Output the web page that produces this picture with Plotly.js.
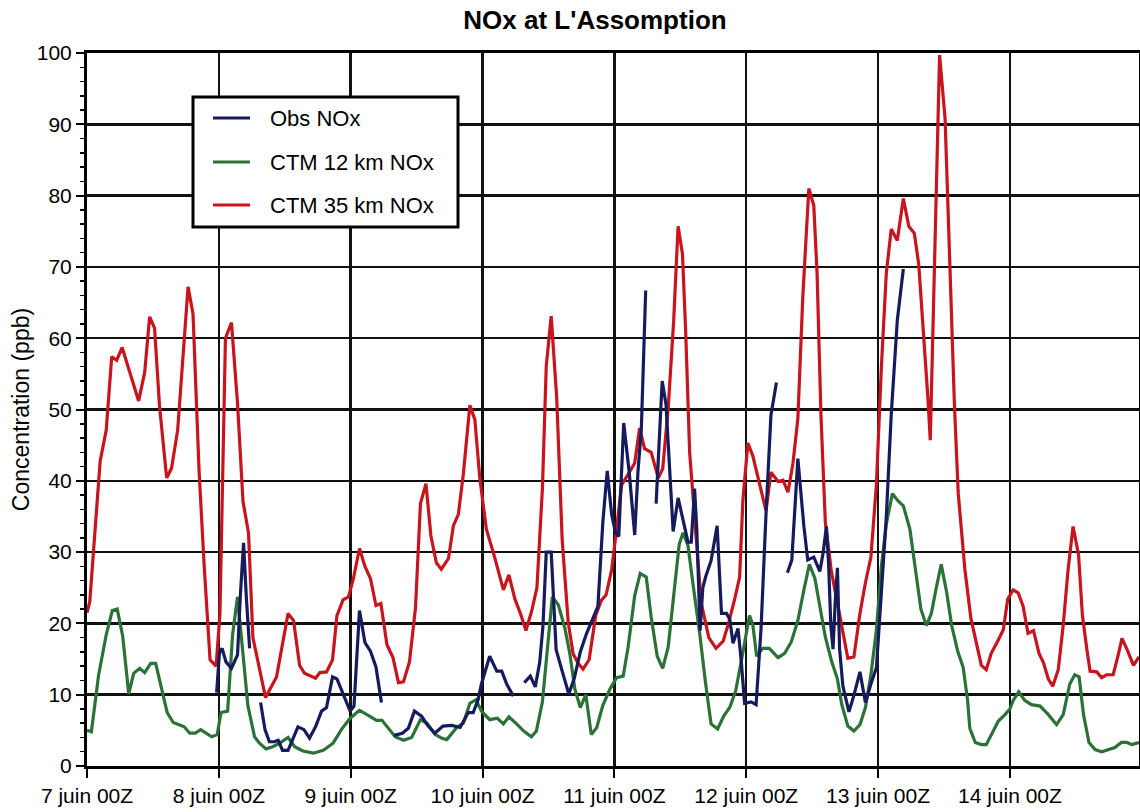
<!DOCTYPE html>
<html>
<head>
<meta charset="utf-8">
<script src="https://cdn.plot.ly/plotly-3.0.1.min.js"></script>
<style>
  html, body { margin: 0; padding: 0; background: #ffffff; }
  #chart { width: 1140px; height: 812px; }
</style>
</head>
<body>
<div id="chart"></div>
<script>
// Hours after 7 juin 00Z and NOx concentrations (ppb)
const dayLabels = ['7 juin 00Z', '8 juin 00Z', '9 juin 00Z', '10 juin 00Z',
                   '11 juin 00Z', '12 juin 00Z', '13 juin 00Z', '14 juin 00Z'];
const seriesNames = ['Obs NOx', 'CTM 12 km NOx', 'CTM 35 km NOx'];
const seriesColors = ['#161b5e', '#2b7239', '#c8141c'];

// Observed NOx (null = missing measurements)
const obsHours = [
  23.6, 24.1, 24.6, 25.3, 26.3, 27.4, 27.9, 28.5, 29.0, 29.6, 30.6,
  31.6, 32.4, 33.2, 34.1, 34.8, 35.6, 36.6, 37.5, 38.4, 39.5, 40.5, 41.6, 42.7, 43.6, 44.7, 45.5,
  46.6, 47.9, 48.6, 49.6, 50.6, 51.6, 52.6, 53.6, 54.8,
  55.9, 57.4, 58.5, 59.6, 60.9, 62.1, 63.3, 64.8, 66.4, 67.9, 68.5, 69.4, 70.3, 71.2, 71.8,
  73.3, 74.6, 75.5, 76.4, 77.6, 78.6,
  79.6, 80.7, 81.6, 82.4, 83.0, 83.6, 84.5, 85.4, 86.5, 87.7, 88.7, 89.8, 90.9, 92.1, 93.0,
  93.9, 94.7, 95.5, 96.2, 96.8, 97.7, 98.7, 99.7, 100.3, 100.9, 101.7, 102.6,
  103.6, 104.2, 104.7, 105.4, 105.9, 106.7, 107.6, 108.5, 109.4, 110.0, 110.6, 111.0, 111.6,
  112.1, 112.6, 113.6, 114.7, 115.5, 116.4, 117.0, 117.6, 118.5, 119.1, 119.7, 120.9, 121.8,
  122.7, 123.6, 124.5, 125.5, 126.5,
  127.5, 128.3, 129.4, 129.9, 130.5, 131.2, 132.3, 133.4, 134.0, 134.6, 135.0, 135.4, 135.8,
  136.2, 136.6, 137.0, 137.6, 138.7, 139.6, 140.7, 141.7, 142.7, 143.7, 144.6, 145.5, 146.4,
  147.5, 148.6
];
const obsNOx = [
  10.3, 15.8, 16.5, 14.6, 13.7, 15.6, 23.7, 31.3, 23.7, 16.5, null,
  8.9, 5.1, 3.4, 3.4, 3.6, 2.2, 2.2, 3.9, 5.5, 5.1, 3.9, 5.5, 7.7, 8.2, 12.5, 12.2,
  10.1, 7.7, 8.4, 21.8, 17.3, 16.1, 13.9, 8.9, null,
  4.3, 4.6, 5.3, 7.7, 7.0, 5.6, 4.6, 5.6, 5.7, 5.4, 6.2, 7.5, 7.5, 9.3, 11.5,
  15.4, 13.3, 13.3, 11.5, 9.8, null,
  11.7, 12.6, 11.1, 14.5, 19.6, 30.0, 30.0, 16.3, 13.3, 10.1, 12.3, 16.0, 18.5, 20.8, 22.4,
  34.2, 41.4, 35.3, 32.7, 32.2, 48.1, 41.2, 32.4, 41.4, 47.1, 66.7, null,
  36.8, 47.6, 54.0, 50.7, 44.5, 32.9, 37.6, 34.7, 31.4, 31.4, 38.9, 33.2, 19.0,
  25.0, 26.5, 28.8, 33.7, 21.4, 21.4, 20.6, 17.2, 19.3, 14.7, 8.8, 9.0, 8.6,
  19.3, 35.3, 49.2, 53.8, null,
  27.1, 28.9, 43.1, 38.8, 33.6, 28.9, 29.3, 27.3, 29.9, 33.6, 28.3, 19.7, 16.4,
  23.0, 27.8, 16.4, 11.2, 7.6, 9.9, 13.2, 8.9, 11.5, 13.8, 24.3, 34.9, 49.3,
  62.5, 69.7
];

// CTM 12 km NOx
const ctm12Hours = [
  0.0, 0.8, 2.1, 3.5, 4.6, 5.5, 6.5, 7.6, 8.5, 9.6, 10.5, 11.6, 12.5, 13.6, 14.6, 15.7,
  16.6, 17.7, 18.7, 19.7, 20.7, 21.8, 22.7, 23.7, 24.4, 25.6, 26.5, 27.4, 28.4, 29.3, 30.5,
  31.4, 32.6, 33.8, 35.1, 36.6, 37.8, 39.3, 41.2, 43.0, 44.8, 46.3, 47.9, 49.6, 51.2, 52.7,
  53.7, 54.9, 56.1, 57.6, 59.1, 60.7, 61.9, 63.4, 64.6, 65.5, 67.3, 68.5, 69.7, 70.8, 71.8,
  73.3, 74.7, 75.8, 76.8, 78.2, 79.5, 80.9, 81.8, 82.9, 83.8, 84.7, 85.8, 87.0, 87.9, 88.8,
  89.8, 90.8, 91.8, 92.8, 93.9, 95.2, 96.4, 97.6, 98.5, 99.7, 100.7, 101.8, 102.7, 103.8,
  104.8, 105.8, 106.8, 107.8, 108.5, 109.4, 110.4, 111.5, 112.6, 113.6, 114.8, 115.9, 117.0,
  118.1, 119.1, 120.0, 120.6, 121.2, 121.9, 123.0, 124.2, 125.8, 127.0, 128.2, 129.4, 130.5,
  131.5, 132.5, 133.4, 134.4, 135.5, 136.6, 137.4, 138.5, 139.6, 140.7, 141.7, 142.7, 143.7,
  144.6, 145.5, 146.6, 147.6, 148.6, 149.8, 150.7, 151.8, 152.8, 153.7, 154.6, 155.5, 156.5,
  157.4, 158.5, 159.5, 160.3, 160.7, 161.7, 162.8, 163.7, 164.8, 165.9, 167.1, 168.0, 168.6,
  169.6, 170.7, 171.9, 173.5, 175.0, 176.5, 177.7, 178.9, 179.8, 180.6, 181.4, 182.4, 183.5,
  184.7, 185.9, 187.1, 188.3, 189.3, 190.2, 191.5
];
const ctm12NOx = [
  5.0, 4.8, 12.7, 18.4, 21.8, 22.0, 18.2, 10.1, 13.0, 13.7, 13.1, 14.4, 14.4, 10.6, 7.5, 6.1,
  5.8, 5.5, 4.6, 4.6, 5.1, 4.6, 4.1, 4.4, 7.5, 7.7, 18.4, 23.7, 15.1, 8.4, 4.1,
  3.2, 2.4, 2.7, 3.2, 4.0, 2.7, 2.1, 1.8, 2.2, 3.2, 5.1, 6.7, 7.8, 7.1, 6.4,
  6.4, 5.3, 4.1, 3.6, 4.0, 6.5, 6.0, 4.4, 3.9, 3.7, 5.4, 6.0, 8.8, 9.3, 7.7,
  6.5, 6.7, 5.9, 6.9, 5.9, 4.9, 4.1, 4.9, 9.0, 16.7, 23.7, 22.6, 19.3, 15.7, 10.8,
  8.2, 10.0, 4.4, 5.4, 8.5, 10.8, 12.4, 12.6, 16.7, 23.9, 27.0, 26.5, 20.9, 15.4,
  13.7, 16.7, 23.9, 31.1, 32.7, 30.9, 25.0, 18.8, 11.6, 5.9, 5.2, 7.0, 8.2,
  10.6, 14.7, 18.8, 21.1, 19.8, 15.4, 16.5, 16.5, 15.2, 15.8, 17.4, 20.4, 24.7,
  28.3, 26.3, 22.4, 18.1, 14.8, 12.2, 8.6, 5.6, 4.9, 5.8, 8.2, 12.8, 19.1,
  28.0, 33.9, 38.2, 37.2, 36.5, 33.2, 28.3, 22.0, 19.7, 21.4, 25.0, 28.3, 24.3,
  19.7, 16.1, 13.8, 9.2, 5.3, 3.3, 3.0, 3.0, 4.6, 6.3, 7.2, 8.0, 9.2,
  10.4, 9.2, 8.6, 8.4, 7.2, 5.8, 7.2, 11.5, 12.8, 12.5, 7.2, 3.3, 2.3,
  2.0, 2.3, 2.6, 3.3, 3.3, 3.0, 3.3
];

// CTM 35 km NOx
const ctm35Hours = [
  0.0, 0.5, 2.4, 3.5, 4.5, 5.4, 6.4, 9.4, 10.5, 11.4, 12.3, 13.2, 14.5, 15.4, 16.5, 18.4,
  19.3, 20.4, 21.3, 22.4, 23.5, 24.2, 25.2, 26.3, 27.4, 28.4, 29.4, 30.2, 32.5, 34.5, 36.6,
  37.6, 38.7, 39.6, 41.6, 42.4, 43.6, 44.7, 45.5, 46.6, 47.6, 48.5, 49.6, 50.6, 51.6, 52.6,
  53.5, 54.6, 55.7, 56.7, 57.6, 58.7, 59.8, 60.7, 61.7, 62.6, 63.6, 64.5, 65.8, 66.7, 67.6,
  68.5, 69.7, 70.6, 71.5, 72.7, 74.2, 75.8, 76.8, 77.9, 78.9, 79.9, 80.9, 81.9, 82.9, 83.6,
  84.5, 85.5, 86.5, 87.6, 88.5, 89.4, 90.3, 91.4, 92.6, 93.6, 94.5, 95.5, 96.4, 97.3, 98.5,
  99.7, 100.6, 101.5, 102.7, 104.0, 104.8, 105.8, 106.8, 107.6, 108.4, 109.0, 109.7, 110.6,
  111.8, 113.2, 114.5, 115.8, 116.7, 117.9, 118.8, 119.4, 120.3, 121.2, 122.7, 123.6, 124.5,
  125.8, 126.7, 127.6, 128.5, 129.4, 130.3, 131.4, 132.3, 132.9, 133.6, 134.4, 135.5, 136.6,
  137.6, 138.5, 139.6, 140.7, 141.7, 142.7, 143.7, 144.6, 145.5, 146.4, 147.5, 148.6, 149.6,
  150.6, 151.4, 152.4, 153.1, 153.5, 154.0, 154.6, 155.2, 156.2, 157.1, 157.9, 158.6, 159.8,
  160.9, 161.9, 162.8, 163.7, 164.6, 165.7, 166.8, 167.6, 168.6, 169.5, 170.4, 171.3, 172.3,
  173.3, 174.1, 175.0, 175.8, 176.8, 177.7, 178.6, 179.5, 180.5, 181.2, 182.0, 182.6, 183.8,
  184.7, 185.6, 186.8, 187.7, 188.4, 189.3, 190.5, 191.5
];
const ctm35NOx = [
  21.5, 23.0, 42.8, 47.1, 57.4, 56.9, 58.7, 51.2, 55.2, 63.0, 61.4, 50.5, 40.4, 41.8, 47.1, 67.2,
  63.4, 41.4, 28.5, 14.9, 14.0, 21.3, 60.0, 62.2, 50.9, 37.1, 32.7, 18.0, 9.6, 12.5, 21.4,
  20.4, 14.1, 13.0, 12.3, 13.1, 13.2, 14.9, 21.1, 23.3, 23.7, 26.3, 30.5, 28.0, 26.3, 22.5,
  22.8, 17.0, 15.2, 11.7, 11.8, 14.6, 22.2, 36.8, 39.6, 32.3, 28.5, 27.6, 29.1, 33.7, 35.3,
  40.9, 50.6, 48.6, 40.4, 33.2, 29.3, 24.7, 26.8, 23.4, 21.4, 19.0, 21.6, 25.0, 38.9, 56.1,
  63.1, 51.7, 31.7, 20.1, 15.7, 14.4, 13.6, 14.9, 21.1, 23.2, 24.0, 27.5, 33.2, 39.4, 40.9,
  42.5, 47.4, 44.5, 44.0, 40.4, 41.7, 50.2, 62.5, 75.7, 71.8, 60.5, 44.0, 34.7,
  22.9, 18.0, 16.5, 17.5, 19.8, 23.4, 26.5, 37.3, 45.3, 43.5, 38.9, 35.8, 41.2,
  39.9, 40.1, 38.4, 42.4, 48.7, 65.8, 81.0, 78.6, 69.1, 49.3, 34.2, 27.3, 23.0,
  18.8, 15.1, 15.3, 21.4, 25.7, 29.3, 39.5, 55.9, 69.1, 75.3, 73.7, 79.6, 75.7,
  74.7, 70.4, 59.9, 51.3, 45.7, 62.5, 82.2, 99.7, 90.8, 70.4, 50.7, 38.2, 27.6,
  20.7, 17.4, 14.1, 13.5, 15.8, 17.4, 19.1, 23.4, 24.7, 24.3, 22.4, 18.6, 19.0,
  15.8, 14.5, 12.2, 11.2, 13.5, 19.7, 27.6, 33.6, 29.6, 21.1, 16.4, 13.3, 13.2,
  12.4, 12.8, 12.8, 15.5, 17.9, 16.4, 14.1, 15.3
];

const FONT = '"Liberation Sans", Arial, Helvetica, sans-serif';
const INK = '#111111';
const W = 1140, H = 812;
const M = { l: 87, r: 1, t: 53, b: 46 };
const plotW = W - M.l - M.r, plotH = H - M.t - M.b;

// pixel position on the page -> paper fraction (for the legend box)
const px = x => (x - M.l) / plotW;
const py = y => (H - M.b - y) / plotH;

function series(i, x, y) {
  return {
    type: 'scatter', mode: 'lines', name: seriesNames[i], x: x, y: y,
    line: { color: seriesColors[i], width: 3.2 },
    connectgaps: false, showlegend: false,
    hoverinfo: 'x+y+name'
  };
}

// drawn back to front: 35 km model, 12 km model, observations
const traces = [
  series(2, ctm35Hours, ctm35NOx),
  series(1, ctm12Hours, ctm12NOx),
  series(0, obsHours, obsNOx)
];

// Legend: framed white box with a line sample and a label per series
const legendBox = { left: 193, right: 458, top: 97, bottom: 227 };
const legendRows = [118, 162, 205];
const shapes = [{
  type: 'rect', xref: 'paper', yref: 'paper', layer: 'above',
  x0: px(legendBox.left), x1: px(legendBox.right),
  y0: py(legendBox.bottom), y1: py(legendBox.top),
  fillcolor: '#ffffff', line: { color: '#000000', width: 3 }
}];
const annotations = [];
seriesNames.forEach((name, i) => {
  shapes.push({
    type: 'line', xref: 'paper', yref: 'paper', layer: 'above',
    x0: px(213), x1: px(250), y0: py(legendRows[i]), y1: py(legendRows[i]),
    line: { color: seriesColors[i], width: 3.2 }
  });
  annotations.push({
    xref: 'paper', yref: 'paper', x: px(268), y: py(legendRows[i]),
    xanchor: 'left', yanchor: 'middle', showarrow: false,
    text: name, font: { family: FONT, size: 22, color: '#000000' }
  });
});

const layout = {
  width: W, height: H,
  margin: M,
  paper_bgcolor: '#ffffff', plot_bgcolor: '#ffffff',
  font: { family: FONT, color: '#000000', size: 21 },
  title: {
    text: "<b>NOx at L'Assomption</b>",
    font: { family: FONT, size: 26, color: '#000000' },
    x: 595 / W, xref: 'container', xanchor: 'center',
    y: 1 - 20 / H, yref: 'container', yanchor: 'middle'
  },
  showlegend: false,
  shapes: shapes,
  annotations: annotations,
  xaxis: {
    range: [0, 191.5],
    tickmode: 'array',
    tickvals: dayLabels.map((_, i) => i * 24),
    ticktext: dayLabels,
    ticks: 'outside', ticklen: 9, tickwidth: 2, tickcolor: '#000000',
    tickfont: { family: FONT, size: 21 },
    showgrid: true, gridcolor: INK, gridwidth: 2.5,
    zeroline: false,
    showline: true, linecolor: '#000000', linewidth: 3, mirror: true
  },
  yaxis: {
    range: [0, 100],
    tick0: 0, dtick: 10,
    ticks: 'outside', ticklen: 8, tickwidth: 2, tickcolor: '#000000',
    minor: { dtick: 2, ticks: 'outside', ticklen: 4, tickwidth: 1.5, tickcolor: '#000000', showgrid: false },
    tickfont: { family: FONT, size: 21 },
    showgrid: true, gridcolor: INK, gridwidth: 2.5,
    zeroline: false,
    showline: true, linecolor: '#000000', linewidth: 3, mirror: true,
    title: { text: 'Concentration (ppb)', font: { family: FONT, size: 23 }, standoff: 1 }
  }
};

Plotly.newPlot('chart', traces, layout, { displayModeBar: false, staticPlot: true });
</script>
</body>
</html>
